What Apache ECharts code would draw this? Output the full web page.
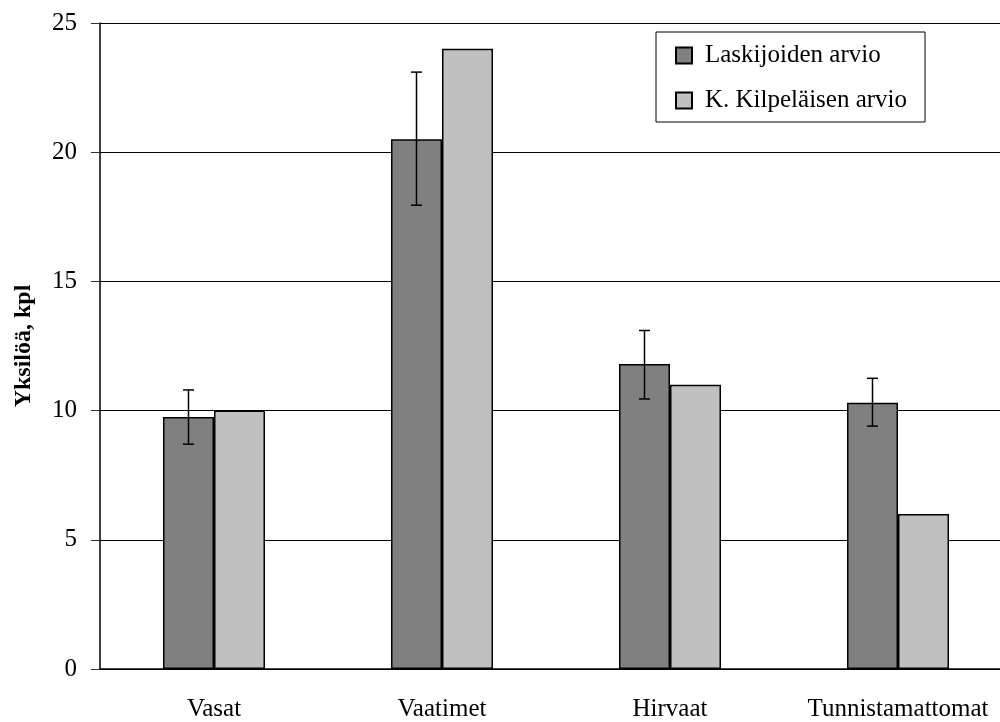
<!DOCTYPE html>
<html>
<head>
<meta charset="utf-8">
<script src="https://cdn.jsdelivr.net/npm/echarts@6/dist/echarts.min.js"></script>
<style>
  html, body { margin: 0; padding: 0; background: #fff; overflow: hidden; }
  /* plot area runs past the right edge of the picture, so the canvas is a bit wider than the window */
  #chart { width: 1012px; height: 722px; }
</style>
</head>
<body>
<div id="chart"></div>
<script>
const categories = ['Vasat', 'Vaatimet', 'Hirvaat', 'Tunnistamattomat'];
const laskijat = [9.75, 20.5, 11.8, 10.3];
const kilpelainen = [10, 24, 11, 6];
const errLow = [8.7, 17.95, 10.45, 9.4];
const errHigh = [10.8, 23.1, 13.1, 11.25];

const FONT = '"Liberation Serif", "DejaVu Serif", serif';

const chart = echarts.init(document.getElementById('chart'));

const errData = categories.map((c, i) => [i, errLow[i], errHigh[i]]);

const option = {
    animation: false,
    textStyle: { fontFamily: FONT, color: '#000' },
    grid: { left: 100, right: 0, top: 23, bottom: 53 },
    legend: {
        orient: 'vertical',
        left: 656,
        top: 32,
        padding: [11, 18, 9, 19],
        itemGap: 20,
        itemWidth: 16,
        itemHeight: 16,
        borderColor: '#000',
        borderWidth: 1,
        backgroundColor: '#fff',
        icon: 'rect',
        textStyle: { fontFamily: FONT, fontSize: 25, color: '#000', lineHeight: 25, padding: [0, 0, 0, 8] },
        data: ['Laskijoiden arvio', 'K. Kilpeläisen arvio']
    },
    xAxis: {
        type: 'category',
        data: categories,
        axisLine: { lineStyle: { color: '#000', width: 1.5 } },
        axisTick: { show: false },
        axisLabel: { interval: 0, fontFamily: FONT, fontSize: 25, color: '#000', margin: 28 }
    },
    yAxis: {
        type: 'value',
        min: 0,
        max: 25,
        interval: 5,
        name: 'Yksilöä, kpl',
        nameLocation: 'middle',
        nameGap: 64,
        nameTextStyle: { fontFamily: FONT, fontSize: 24, fontWeight: 'bold', color: '#000' },
        axisLine: { show: true, lineStyle: { color: '#000', width: 1.5 } },
        axisTick: { show: true, length: 9, lineStyle: { color: '#333' } },
        axisLabel: { fontFamily: FONT, fontSize: 25, color: '#000', margin: 23 },
        splitLine: { lineStyle: { color: '#000', width: 1 } }
    },
    series: [
        {
            name: 'Laskijoiden arvio',
            type: 'bar',
            data: laskijat,
            barWidth: 51,
            barGap: '0%',
            itemStyle: { color: '#808080', borderColor: '#000', borderWidth: 1.5 }
        },
        {
            name: 'K. Kilpeläisen arvio',
            type: 'bar',
            data: kilpelainen,
            barWidth: 51,
            itemStyle: { color: '#c0c0c0', borderColor: '#000', borderWidth: 1.5 }
        },
        {
            type: 'custom',
            z: 5,
            data: errData,
            encode: { x: 0, y: [1, 2] },
            renderItem: function (params, api) {
                const lo = api.coord([api.value(0), api.value(1)]);
                const hi = api.coord([api.value(0), api.value(2)]);
                const x = lo[0] - 25.5;
                const half = 5.5;
                const style = { stroke: '#000', lineWidth: 1.5 };
                return {
                    type: 'group',
                    children: [
                        { type: 'line', shape: { x1: x, y1: hi[1], x2: x, y2: lo[1] }, style: style },
                        { type: 'line', shape: { x1: x - half, y1: hi[1], x2: x + half, y2: hi[1] }, style: style },
                        { type: 'line', shape: { x1: x - half, y1: lo[1], x2: x + half, y2: lo[1] }, style: style }
                    ]
                };
            }
        }
    ]
};

chart.setOption(option);
</script>
</body>
</html>
